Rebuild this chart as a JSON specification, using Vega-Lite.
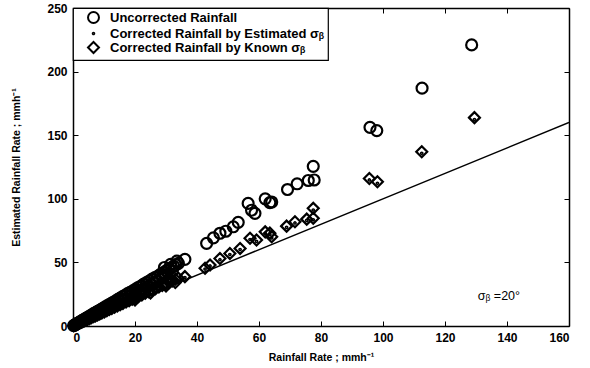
{
  "$schema": "https://vega.github.io/schema/vega-lite/v6.json",
  "width": 496,
  "height": 318,
  "autosize": "none",
  "padding": {"left": 73, "top": 8, "right": 21, "bottom": 42},
  "background": "white",
  "config": {
    "view": {"stroke": null},
    "font": "Liberation Sans",
    "axis": {
      "grid": false,
      "domainColor": "black",
      "domainWidth": 1.5,
      "tickColor": "black",
      "tickWidth": 1,
      "tickSize": -5,
      "labelFont": "Liberation Sans",
      "labelFontWeight": "bold",
      "labelFontSize": 12,
      "labelColor": "black",
      "titleFont": "Liberation Sans",
      "titleFontWeight": "bold",
      "titleFontSize": 10.5,
      "titleColor": "black"
    },
    "legend": {
      "orient": "top-left",
      "offset": 0,
      "strokeColor": "black",
      "strokeWidth": 1.2,
      "fillColor": "white",
      "padding": 3,
      "rowPadding": -3,
      "symbolOffset": 11,
      "labelOffset": 10,
      "symbolSize": 120,
      "symbolStrokeWidth": 2,
      "symbolStrokeColor": "black",
      "symbolFillColor": "transparent",
      "labelFont": "Liberation Sans",
      "labelFontWeight": "bold",
      "labelFontSize": 13,
      "labelColor": "black",
      "labelLimit": 400,
      "title": null
    }
  },
  "datasets": {
    "pts": [
      {"x": 0.2, "y": 0.3, "s": "Uncorrected Rainfall"},
      {"x": 0.5, "y": 0.7, "s": "Uncorrected Rainfall"},
      {"x": 0.8, "y": 1.1, "s": "Uncorrected Rainfall"},
      {"x": 1.0, "y": 1.5, "s": "Uncorrected Rainfall"},
      {"x": 1.3, "y": 1.9, "s": "Uncorrected Rainfall"},
      {"x": 1.6, "y": 2.3, "s": "Uncorrected Rainfall"},
      {"x": 2.0, "y": 2.9, "s": "Uncorrected Rainfall"},
      {"x": 2.3, "y": 3.2, "s": "Uncorrected Rainfall"},
      {"x": 2.7, "y": 3.9, "s": "Uncorrected Rainfall"},
      {"x": 3.0, "y": 4.4, "s": "Uncorrected Rainfall"},
      {"x": 3.4, "y": 4.8, "s": "Uncorrected Rainfall"},
      {"x": 3.8, "y": 5.5, "s": "Uncorrected Rainfall"},
      {"x": 4.2, "y": 6.0, "s": "Uncorrected Rainfall"},
      {"x": 4.6, "y": 6.7, "s": "Uncorrected Rainfall"},
      {"x": 5.0, "y": 7.2, "s": "Uncorrected Rainfall"},
      {"x": 5.5, "y": 7.9, "s": "Uncorrected Rainfall"},
      {"x": 6.0, "y": 8.6, "s": "Uncorrected Rainfall"},
      {"x": 6.2, "y": 7.6, "s": "Uncorrected Rainfall"},
      {"x": 6.5, "y": 9.5, "s": "Uncorrected Rainfall"},
      {"x": 7.0, "y": 10.1, "s": "Uncorrected Rainfall"},
      {"x": 7.5, "y": 10.8, "s": "Uncorrected Rainfall"},
      {"x": 8.0, "y": 11.6, "s": "Uncorrected Rainfall"},
      {"x": 8.3, "y": 10.3, "s": "Uncorrected Rainfall"},
      {"x": 8.6, "y": 12.4, "s": "Uncorrected Rainfall"},
      {"x": 9.2, "y": 13.3, "s": "Uncorrected Rainfall"},
      {"x": 9.8, "y": 14.1, "s": "Uncorrected Rainfall"},
      {"x": 10.0, "y": 12.5, "s": "Uncorrected Rainfall"},
      {"x": 10.4, "y": 15.0, "s": "Uncorrected Rainfall"},
      {"x": 11.0, "y": 15.8, "s": "Uncorrected Rainfall"},
      {"x": 11.2, "y": 13.9, "s": "Uncorrected Rainfall"},
      {"x": 11.7, "y": 16.9, "s": "Uncorrected Rainfall"},
      {"x": 12.0, "y": 15.0, "s": "Uncorrected Rainfall"},
      {"x": 12.4, "y": 17.8, "s": "Uncorrected Rainfall"},
      {"x": 13.1, "y": 18.9, "s": "Uncorrected Rainfall"},
      {"x": 13.5, "y": 16.8, "s": "Uncorrected Rainfall"},
      {"x": 13.8, "y": 19.8, "s": "Uncorrected Rainfall"},
      {"x": 14.5, "y": 20.9, "s": "Uncorrected Rainfall"},
      {"x": 15.0, "y": 19.0, "s": "Uncorrected Rainfall"},
      {"x": 15.2, "y": 21.9, "s": "Uncorrected Rainfall"},
      {"x": 16.0, "y": 23.1, "s": "Uncorrected Rainfall"},
      {"x": 16.5, "y": 21.0, "s": "Uncorrected Rainfall"},
      {"x": 16.8, "y": 24.2, "s": "Uncorrected Rainfall"},
      {"x": 17.6, "y": 25.4, "s": "Uncorrected Rainfall"},
      {"x": 18.0, "y": 23.0, "s": "Uncorrected Rainfall"},
      {"x": 18.4, "y": 26.5, "s": "Uncorrected Rainfall"},
      {"x": 19.0, "y": 24.4, "s": "Uncorrected Rainfall"},
      {"x": 19.3, "y": 27.6, "s": "Uncorrected Rainfall"},
      {"x": 20.0, "y": 26.0, "s": "Uncorrected Rainfall"},
      {"x": 20.1, "y": 28.8, "s": "Uncorrected Rainfall"},
      {"x": 21.0, "y": 30.3, "s": "Uncorrected Rainfall"},
      {"x": 21.2, "y": 27.2, "s": "Uncorrected Rainfall"},
      {"x": 21.9, "y": 31.4, "s": "Uncorrected Rainfall"},
      {"x": 22.0, "y": 28.5, "s": "Uncorrected Rainfall"},
      {"x": 22.8, "y": 32.9, "s": "Uncorrected Rainfall"},
      {"x": 23.0, "y": 29.6, "s": "Uncorrected Rainfall"},
      {"x": 23.7, "y": 34.1, "s": "Uncorrected Rainfall"},
      {"x": 24.0, "y": 31.0, "s": "Uncorrected Rainfall"},
      {"x": 24.6, "y": 35.4, "s": "Uncorrected Rainfall"},
      {"x": 25.0, "y": 32.6, "s": "Uncorrected Rainfall"},
      {"x": 25.5, "y": 36.8, "s": "Uncorrected Rainfall"},
      {"x": 26.0, "y": 34.0, "s": "Uncorrected Rainfall"},
      {"x": 26.4, "y": 38.0, "s": "Uncorrected Rainfall"},
      {"x": 27.0, "y": 35.2, "s": "Uncorrected Rainfall"},
      {"x": 27.4, "y": 39.2, "s": "Uncorrected Rainfall"},
      {"x": 28.0, "y": 37.0, "s": "Uncorrected Rainfall"},
      {"x": 28.3, "y": 40.8, "s": "Uncorrected Rainfall"},
      {"x": 29.0, "y": 38.4, "s": "Uncorrected Rainfall"},
      {"x": 29.2, "y": 42.0, "s": "Uncorrected Rainfall"},
      {"x": 29.5, "y": 46.0, "s": "Uncorrected Rainfall"},
      {"x": 30.0, "y": 40.0, "s": "Uncorrected Rainfall"},
      {"x": 30.1, "y": 43.5, "s": "Uncorrected Rainfall"},
      {"x": 31.0, "y": 44.6, "s": "Uncorrected Rainfall"},
      {"x": 31.5, "y": 48.5, "s": "Uncorrected Rainfall"},
      {"x": 31.8, "y": 46.0, "s": "Uncorrected Rainfall"},
      {"x": 32.0, "y": 43.0, "s": "Uncorrected Rainfall"},
      {"x": 32.5, "y": 47.0, "s": "Uncorrected Rainfall"},
      {"x": 33.2, "y": 48.1, "s": "Uncorrected Rainfall"},
      {"x": 33.5, "y": 51.0, "s": "Uncorrected Rainfall"},
      {"x": 34.0, "y": 49.3, "s": "Uncorrected Rainfall"},
      {"x": 36.1, "y": 52.4, "s": "Uncorrected Rainfall"},
      {"x": 43.1, "y": 65.0, "s": "Uncorrected Rainfall"},
      {"x": 45.3, "y": 69.3, "s": "Uncorrected Rainfall"},
      {"x": 47.4, "y": 72.9, "s": "Uncorrected Rainfall"},
      {"x": 49.3, "y": 74.5, "s": "Uncorrected Rainfall"},
      {"x": 51.7, "y": 78.0, "s": "Uncorrected Rainfall"},
      {"x": 53.3, "y": 81.5, "s": "Uncorrected Rainfall"},
      {"x": 56.5, "y": 96.4, "s": "Uncorrected Rainfall"},
      {"x": 57.6, "y": 91.0, "s": "Uncorrected Rainfall"},
      {"x": 58.7, "y": 88.6, "s": "Uncorrected Rainfall"},
      {"x": 62.0, "y": 100.0, "s": "Uncorrected Rainfall"},
      {"x": 63.5, "y": 97.0, "s": "Uncorrected Rainfall"},
      {"x": 64.1, "y": 97.5, "s": "Uncorrected Rainfall"},
      {"x": 69.2, "y": 107.3, "s": "Uncorrected Rainfall"},
      {"x": 72.3, "y": 111.8, "s": "Uncorrected Rainfall"},
      {"x": 75.9, "y": 114.4, "s": "Uncorrected Rainfall"},
      {"x": 77.8, "y": 114.8, "s": "Uncorrected Rainfall"},
      {"x": 77.5, "y": 125.5, "s": "Uncorrected Rainfall"},
      {"x": 95.8, "y": 156.2, "s": "Uncorrected Rainfall"},
      {"x": 98.0, "y": 153.6, "s": "Uncorrected Rainfall"},
      {"x": 112.6, "y": 187.0, "s": "Uncorrected Rainfall"},
      {"x": 128.6, "y": 221.0, "s": "Uncorrected Rainfall"},
      {"x": 0.2, "y": 0.2, "s": "Corrected Rainfall by Known σᵦ"},
      {"x": 0.5, "y": 0.6, "s": "Corrected Rainfall by Known σᵦ"},
      {"x": 0.9, "y": 1.0, "s": "Corrected Rainfall by Known σᵦ"},
      {"x": 1.3, "y": 1.4, "s": "Corrected Rainfall by Known σᵦ"},
      {"x": 1.7, "y": 1.9, "s": "Corrected Rainfall by Known σᵦ"},
      {"x": 2.1, "y": 2.3, "s": "Corrected Rainfall by Known σᵦ"},
      {"x": 2.6, "y": 2.9, "s": "Corrected Rainfall by Known σᵦ"},
      {"x": 3.1, "y": 3.4, "s": "Corrected Rainfall by Known σᵦ"},
      {"x": 3.6, "y": 4.0, "s": "Corrected Rainfall by Known σᵦ"},
      {"x": 4.1, "y": 4.5, "s": "Corrected Rainfall by Known σᵦ"},
      {"x": 4.7, "y": 5.2, "s": "Corrected Rainfall by Known σᵦ"},
      {"x": 5.3, "y": 5.8, "s": "Corrected Rainfall by Known σᵦ"},
      {"x": 5.9, "y": 6.5, "s": "Corrected Rainfall by Known σᵦ"},
      {"x": 6.5, "y": 7.2, "s": "Corrected Rainfall by Known σᵦ"},
      {"x": 7.2, "y": 7.9, "s": "Corrected Rainfall by Known σᵦ"},
      {"x": 7.9, "y": 8.7, "s": "Corrected Rainfall by Known σᵦ"},
      {"x": 8.6, "y": 9.5, "s": "Corrected Rainfall by Known σᵦ"},
      {"x": 9.3, "y": 10.2, "s": "Corrected Rainfall by Known σᵦ"},
      {"x": 10.1, "y": 11.1, "s": "Corrected Rainfall by Known σᵦ"},
      {"x": 10.9, "y": 12.0, "s": "Corrected Rainfall by Known σᵦ"},
      {"x": 11.7, "y": 12.9, "s": "Corrected Rainfall by Known σᵦ"},
      {"x": 12.5, "y": 13.8, "s": "Corrected Rainfall by Known σᵦ"},
      {"x": 13.4, "y": 14.7, "s": "Corrected Rainfall by Known σᵦ"},
      {"x": 14.3, "y": 15.8, "s": "Corrected Rainfall by Known σᵦ"},
      {"x": 15.2, "y": 16.7, "s": "Corrected Rainfall by Known σᵦ"},
      {"x": 16.1, "y": 17.8, "s": "Corrected Rainfall by Known σᵦ"},
      {"x": 17.1, "y": 18.8, "s": "Corrected Rainfall by Known σᵦ"},
      {"x": 18.1, "y": 19.9, "s": "Corrected Rainfall by Known σᵦ"},
      {"x": 19.1, "y": 21.1, "s": "Corrected Rainfall by Known σᵦ"},
      {"x": 20.0, "y": 20.5, "s": "Corrected Rainfall by Known σᵦ"},
      {"x": 20.1, "y": 22.2, "s": "Corrected Rainfall by Known σᵦ"},
      {"x": 21.1, "y": 23.3, "s": "Corrected Rainfall by Known σᵦ"},
      {"x": 22.2, "y": 24.4, "s": "Corrected Rainfall by Known σᵦ"},
      {"x": 23.3, "y": 25.7, "s": "Corrected Rainfall by Known σᵦ"},
      {"x": 24.4, "y": 26.9, "s": "Corrected Rainfall by Known σᵦ"},
      {"x": 25.0, "y": 26.0, "s": "Corrected Rainfall by Known σᵦ"},
      {"x": 25.5, "y": 28.2, "s": "Corrected Rainfall by Known σᵦ"},
      {"x": 26.6, "y": 29.3, "s": "Corrected Rainfall by Known σᵦ"},
      {"x": 27.7, "y": 30.6, "s": "Corrected Rainfall by Known σᵦ"},
      {"x": 28.8, "y": 31.8, "s": "Corrected Rainfall by Known σᵦ"},
      {"x": 29.9, "y": 33.0, "s": "Corrected Rainfall by Known σᵦ"},
      {"x": 30.0, "y": 31.5, "s": "Corrected Rainfall by Known σᵦ"},
      {"x": 31.0, "y": 34.3, "s": "Corrected Rainfall by Known σᵦ"},
      {"x": 31.3, "y": 36.0, "s": "Corrected Rainfall by Known σᵦ"},
      {"x": 32.0, "y": 35.5, "s": "Corrected Rainfall by Known σᵦ"},
      {"x": 33.0, "y": 34.2, "s": "Corrected Rainfall by Known σᵦ"},
      {"x": 33.0, "y": 36.8, "s": "Corrected Rainfall by Known σᵦ"},
      {"x": 34.0, "y": 37.6, "s": "Corrected Rainfall by Known σᵦ"},
      {"x": 36.1, "y": 38.8, "s": "Corrected Rainfall by Known σᵦ"},
      {"x": 42.6, "y": 45.4, "s": "Corrected Rainfall by Known σᵦ"},
      {"x": 44.2, "y": 48.0, "s": "Corrected Rainfall by Known σᵦ"},
      {"x": 47.4, "y": 53.0, "s": "Corrected Rainfall by Known σᵦ"},
      {"x": 50.6, "y": 57.0, "s": "Corrected Rainfall by Known σᵦ"},
      {"x": 53.9, "y": 61.0, "s": "Corrected Rainfall by Known σᵦ"},
      {"x": 57.1, "y": 69.0, "s": "Corrected Rainfall by Known σᵦ"},
      {"x": 59.2, "y": 67.6, "s": "Corrected Rainfall by Known σᵦ"},
      {"x": 62.0, "y": 74.0, "s": "Corrected Rainfall by Known σᵦ"},
      {"x": 63.5, "y": 73.0, "s": "Corrected Rainfall by Known σᵦ"},
      {"x": 64.1, "y": 70.2, "s": "Corrected Rainfall by Known σᵦ"},
      {"x": 68.9, "y": 78.5, "s": "Corrected Rainfall by Known σᵦ"},
      {"x": 71.6, "y": 82.0, "s": "Corrected Rainfall by Known σᵦ"},
      {"x": 75.4, "y": 84.0, "s": "Corrected Rainfall by Known σᵦ"},
      {"x": 77.5, "y": 84.7, "s": "Corrected Rainfall by Known σᵦ"},
      {"x": 77.5, "y": 92.5, "s": "Corrected Rainfall by Known σᵦ"},
      {"x": 95.6, "y": 116.0, "s": "Corrected Rainfall by Known σᵦ"},
      {"x": 98.2, "y": 113.4, "s": "Corrected Rainfall by Known σᵦ"},
      {"x": 112.5, "y": 137.0, "s": "Corrected Rainfall by Known σᵦ"},
      {"x": 129.5, "y": 163.8, "s": "Corrected Rainfall by Known σᵦ"},
      {"x": 1.0, "y": 1.1, "s": "Corrected Rainfall by Estimated σᵦ"},
      {"x": 2.0, "y": 2.1, "s": "Corrected Rainfall by Estimated σᵦ"},
      {"x": 3.5, "y": 3.8, "s": "Corrected Rainfall by Estimated σᵦ"},
      {"x": 5.0, "y": 5.3, "s": "Corrected Rainfall by Estimated σᵦ"},
      {"x": 6.5, "y": 7.0, "s": "Corrected Rainfall by Estimated σᵦ"},
      {"x": 8.0, "y": 8.6, "s": "Corrected Rainfall by Estimated σᵦ"},
      {"x": 9.5, "y": 10.3, "s": "Corrected Rainfall by Estimated σᵦ"},
      {"x": 11.0, "y": 11.9, "s": "Corrected Rainfall by Estimated σᵦ"},
      {"x": 12.5, "y": 13.4, "s": "Corrected Rainfall by Estimated σᵦ"},
      {"x": 14.0, "y": 15.1, "s": "Corrected Rainfall by Estimated σᵦ"},
      {"x": 15.5, "y": 16.6, "s": "Corrected Rainfall by Estimated σᵦ"},
      {"x": 17.0, "y": 18.4, "s": "Corrected Rainfall by Estimated σᵦ"},
      {"x": 18.5, "y": 19.8, "s": "Corrected Rainfall by Estimated σᵦ"},
      {"x": 20.0, "y": 21.6, "s": "Corrected Rainfall by Estimated σᵦ"},
      {"x": 21.5, "y": 23.1, "s": "Corrected Rainfall by Estimated σᵦ"},
      {"x": 23.0, "y": 24.9, "s": "Corrected Rainfall by Estimated σᵦ"},
      {"x": 24.5, "y": 26.3, "s": "Corrected Rainfall by Estimated σᵦ"},
      {"x": 26.0, "y": 28.1, "s": "Corrected Rainfall by Estimated σᵦ"},
      {"x": 27.5, "y": 29.6, "s": "Corrected Rainfall by Estimated σᵦ"},
      {"x": 29.0, "y": 31.3, "s": "Corrected Rainfall by Estimated σᵦ"},
      {"x": 30.5, "y": 32.8, "s": "Corrected Rainfall by Estimated σᵦ"},
      {"x": 32.0, "y": 34.6, "s": "Corrected Rainfall by Estimated σᵦ"},
      {"x": 33.5, "y": 36.0, "s": "Corrected Rainfall by Estimated σᵦ"},
      {"x": 36.1, "y": 38.0, "s": "Corrected Rainfall by Estimated σᵦ"},
      {"x": 42.6, "y": 44.8, "s": "Corrected Rainfall by Estimated σᵦ"},
      {"x": 44.2, "y": 47.2, "s": "Corrected Rainfall by Estimated σᵦ"},
      {"x": 47.4, "y": 52.1, "s": "Corrected Rainfall by Estimated σᵦ"},
      {"x": 50.6, "y": 56.2, "s": "Corrected Rainfall by Estimated σᵦ"},
      {"x": 53.9, "y": 60.1, "s": "Corrected Rainfall by Estimated σᵦ"},
      {"x": 57.1, "y": 68.0, "s": "Corrected Rainfall by Estimated σᵦ"},
      {"x": 59.2, "y": 66.5, "s": "Corrected Rainfall by Estimated σᵦ"},
      {"x": 62.0, "y": 72.9, "s": "Corrected Rainfall by Estimated σᵦ"},
      {"x": 63.5, "y": 72.0, "s": "Corrected Rainfall by Estimated σᵦ"},
      {"x": 64.1, "y": 69.2, "s": "Corrected Rainfall by Estimated σᵦ"},
      {"x": 68.9, "y": 77.5, "s": "Corrected Rainfall by Estimated σᵦ"},
      {"x": 71.6, "y": 81.0, "s": "Corrected Rainfall by Estimated σᵦ"},
      {"x": 75.4, "y": 83.0, "s": "Corrected Rainfall by Estimated σᵦ"},
      {"x": 77.5, "y": 83.5, "s": "Corrected Rainfall by Estimated σᵦ"},
      {"x": 77.5, "y": 91.2, "s": "Corrected Rainfall by Estimated σᵦ"},
      {"x": 95.6, "y": 114.8, "s": "Corrected Rainfall by Estimated σᵦ"},
      {"x": 98.2, "y": 112.2, "s": "Corrected Rainfall by Estimated σᵦ"},
      {"x": 112.5, "y": 135.8, "s": "Corrected Rainfall by Estimated σᵦ"},
      {"x": 129.5, "y": 162.3, "s": "Corrected Rainfall by Estimated σᵦ"}
    ]
  },
  "resolve": {"axis": {"x": "independent", "y": "independent"}},
  "layer": [
    {
      "data": {"values": [{"x": 0, "y": 0}, {"x": 160, "y": 160}]},
      "mark": {"type": "line", "color": "black", "strokeWidth": 1.5, "clip": true},
      "encoding": {
        "x": {"field": "x", "type": "quantitative", "scale": {"domain": [0, 160], "nice": false},
              "axis": {"orient": "top", "values": [0, 20, 40, 60, 80, 100, 120, 140, 160], "labels": false, "title": null}},
        "y": {"field": "y", "type": "quantitative", "scale": {"domain": [0, 250], "nice": false},
              "axis": {"orient": "right", "values": [0, 50, 100, 150, 200, 250], "labels": false, "title": null}}
      }
    },
    {
      "data": {"name": "pts"},
      "mark": {"type": "point", "filled": false, "strokeWidth": 2.2, "opacity": 1, "color": "black", "size": 120},
      "encoding": {
        "x": {"field": "x", "type": "quantitative", "scale": {"domain": [0, 160], "nice": false},
              "axis": {"orient": "bottom", "values": [0, 20, 40, 60, 80, 100, 120, 140, 160], "title": "Rainfall Rate ; mmh⁻¹", "labelPadding": 11, "titlePadding": 9}},
        "y": {"field": "y", "type": "quantitative", "scale": {"domain": [0, 250], "nice": false},
              "axis": {"orient": "left", "values": [0, 50, 100, 150, 200, 250], "title": "Estimated Rainfall Rate ; mmh⁻¹", "labelPadding": 11, "titlePadding": 25}},
        "shape": {"field": "s", "type": "nominal",
                  "scale": {"domain": ["Uncorrected Rainfall", "Corrected Rainfall by Estimated σᵦ", "Corrected Rainfall by Known σᵦ"],
                            "range": ["circle", "M-0.14,0A0.14,0.14 0 1,0 0.14,0A0.14,0.14 0 1,0 -0.14,0Z", "diamond"]}}
      }
    },
    {
      "data": {"values": [{"x": 130.6, "y": 20.4, "label": "σᵦ =20°"}]},
      "mark": {"type": "text", "align": "left", "baseline": "alphabetic", "font": "Liberation Sans", "fontSize": 12.5, "color": "black"},
      "encoding": {
        "x": {"field": "x", "type": "quantitative", "axis": null},
        "y": {"field": "y", "type": "quantitative", "axis": null},
        "text": {"field": "label"}
      }
    }
  ]
}
